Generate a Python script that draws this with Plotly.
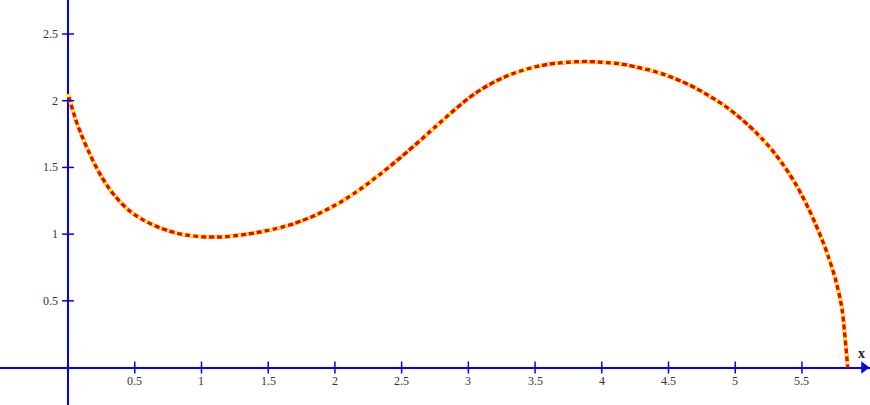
import plotly.graph_objects as go

# ---- data ----
x_vals = [0.00, 0.05, 0.10, 0.15, 0.20, 0.25, 0.30, 0.35, 0.40, 0.45,
          0.50, 0.55, 0.60, 0.65, 0.70, 0.75, 0.80, 0.85, 0.90, 0.95,
          1.00, 1.05, 1.10, 1.15, 1.20, 1.25, 1.30, 1.35, 1.40, 1.45,
          1.50, 1.55, 1.60, 1.65, 1.70, 1.75, 1.80, 1.85, 1.90, 1.95,
          2.00, 2.05, 2.10, 2.15, 2.20, 2.25, 2.30, 2.35, 2.40, 2.45,
          2.50, 2.55, 2.60, 2.65, 2.70, 2.75, 2.80, 2.85, 2.90, 2.95,
          3.00, 3.05, 3.10, 3.15, 3.20, 3.25, 3.30, 3.35, 3.40, 3.45,
          3.50, 3.55, 3.60, 3.65, 3.70, 3.75, 3.80, 3.85, 3.90, 3.95,
          4.00, 4.05, 4.10, 4.15, 4.20, 4.25, 4.30, 4.35, 4.40, 4.45,
          4.50, 4.55, 4.60, 4.65, 4.70, 4.75, 4.80, 4.85, 4.90, 4.95,
          5.00, 5.05, 5.10, 5.15, 5.20, 5.25, 5.30, 5.35, 5.40, 5.45,
          5.50, 5.55, 5.60, 5.65, 5.70, 5.75, 5.80, 5.843]
y_vals = [2.050, 1.880, 1.745, 1.628, 1.524, 1.432, 1.354, 1.288, 1.232, 1.184,
          1.145, 1.113, 1.087, 1.064, 1.043, 1.026, 1.011, 0.999, 0.991, 0.985,
          0.981, 0.979, 0.978, 0.979, 0.982, 0.987, 0.993, 1.001, 1.009, 1.018,
          1.028, 1.039, 1.051, 1.065, 1.081, 1.099, 1.119, 1.141, 1.164, 1.189,
          1.216, 1.245, 1.276, 1.309, 1.344, 1.381, 1.419, 1.458, 1.498, 1.539,
          1.581, 1.624, 1.668, 1.712, 1.757, 1.802, 1.847, 1.891, 1.935, 1.977,
          2.017, 2.054, 2.087, 2.117, 2.144, 2.168, 2.190, 2.209, 2.226, 2.241,
          2.254, 2.264, 2.273, 2.280, 2.285, 2.289, 2.292, 2.293, 2.293, 2.292,
          2.289, 2.285, 2.280, 2.273, 2.265, 2.255, 2.244, 2.232, 2.218, 2.202,
          2.185, 2.165, 2.144, 2.121, 2.096, 2.069, 2.040, 2.009, 1.976, 1.940,
          1.901, 1.859, 1.815, 1.768, 1.716, 1.661, 1.600, 1.533, 1.460, 1.380,
          1.290, 1.190, 1.080, 0.960, 0.825, 0.665, 0.440, 0.000]

x_ticks = [0.5, 1, 1.5, 2, 2.5, 3, 3.5, 4, 4.5, 5, 5.5]
x_tick_labels = ["0.5", "1", "1.5", "2", "2.5", "3", "3.5", "4", "4.5", "5", "5.5"]
y_ticks = [0.5, 1, 1.5, 2, 2.5]
y_tick_labels = ["0.5", "1", "1.5", "2", "2.5"]

AXIS_BLUE = "#0000ff"
FONT = "Liberation Serif"

fig = go.Figure()

fig.add_trace(go.Scatter(x=x_vals, y=y_vals, mode="lines",
                         line=dict(color="#ff0000", width=3.5, shape="spline", smoothing=0.6),
                         hoverinfo="skip", showlegend=False))
fig.add_trace(go.Scatter(x=x_vals, y=y_vals, mode="lines",
                         line=dict(color="#ffff00", width=3.5, dash="3px,5px",
                                   shape="spline", smoothing=0.6),
                         hoverinfo="skip", showlegend=False))

# arrow head at the right end of the x axis
fig.add_trace(go.Scatter(x=[5.965], y=[0], mode="markers",
                         marker=dict(symbol="triangle-right", size=11, color=AXIS_BLUE),
                         hoverinfo="skip", showlegend=False, cliponaxis=False))

shapes = []
annotations = []
for v, lab in zip(x_ticks, x_tick_labels):
    shapes.append(dict(type="line", xref="x", yref="y", x0=v, x1=v,
                       ysizemode="pixel", yanchor=0, y0=-6, y1=6,
                       line=dict(color=AXIS_BLUE, width=1.5)))
    annotations.append(dict(x=v, y=0, xref="x", yref="y", text=lab, showarrow=False,
                            xanchor="center", yanchor="middle", yshift=-13,
                            font=dict(family=FONT, size=12, color="#333333")))
for v, lab in zip(y_ticks, y_tick_labels):
    shapes.append(dict(type="line", xref="x", yref="y", y0=v, y1=v,
                       xsizemode="pixel", xanchor=0, x0=-6, x1=6,
                       line=dict(color=AXIS_BLUE, width=1.5)))
    annotations.append(dict(x=0, y=v, xref="x", yref="y", text=lab, showarrow=False,
                            xanchor="right", yanchor="middle", xshift=-8,
                            font=dict(family=FONT, size=12, color="#333333")))

annotations.append(dict(x=5.95, y=0, xref="x", yref="y", text="<b>x</b>", showarrow=False,
                        xanchor="center", yanchor="middle", yshift=14,
                        font=dict(family=FONT, size=14, color="#222222")))

fig.update_layout(
    width=870, height=405,
    margin=dict(l=0, r=0, t=0, b=0),
    paper_bgcolor="white", plot_bgcolor="white",
    showlegend=False,
    shapes=shapes, annotations=annotations,
    xaxis=dict(range=[-0.51, 6.01], showgrid=False, showticklabels=False, ticks="",
               zeroline=True, zerolinecolor=AXIS_BLUE, zerolinewidth=2, fixedrange=True),
    yaxis=dict(range=[-0.281, 2.755], showgrid=False, showticklabels=False, ticks="",
               zeroline=True, zerolinecolor=AXIS_BLUE, zerolinewidth=2, fixedrange=True),
)

fig.write_html("out.html")
